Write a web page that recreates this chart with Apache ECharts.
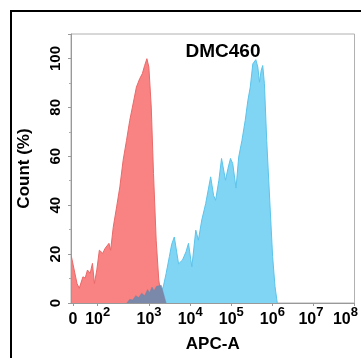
<!DOCTYPE html>
<html>
<head>
<meta charset="utf-8">
<script src="https://cdn.jsdelivr.net/npm/echarts@6/dist/echarts.min.js"></script>
<style>html,body{margin:0;padding:0;background:#fff}#c{width:361px;height:358px}</style>
</head>
<body>
<div id="c"></div>
<script>
// x positions are in axis units (decades of APC-A on the biexponential display scale)
var redX = [1.11,1.125,1.246,1.301,1.39,1.446,1.501,1.566,1.622,1.670,1.728,1.790,1.872,1.928,1.969,2.024,2.065,2.128,2.21,2.289,2.369,2.451,2.53,2.595,2.692,2.771,2.836,2.892,2.947,2.995,3.053,3.108,3.173,3.236,3.294,3.33];
var redY = [19,18.4,8,6,10.7,10.2,13.5,12.1,16.2,8,13.5,21.6,20.3,22.3,21.6,24.4,21.6,31,39.3,47.5,58.4,66.5,74.7,80.1,88.3,91.7,93.8,97.1,99.9,96.5,80.1,52.9,25.7,9.4,3,0];

var blueX = [3.25,3.294,3.35,3.414,3.494,3.55,3.614,3.718,3.814,3.9,3.959,4.041,4.137,4.2,4.282,4.378,4.499,4.57,4.619,4.699,4.764,4.86,4.92,4.981,5.036,5.116,5.181,5.26,5.34,5.405,5.463,5.525,5.598,5.646,5.687,5.728,5.766,5.807,5.863,5.945,6.007,6.065,6.12];
var blueY = [0,4,7,12,19,24,27,16,17.6,21,24.4,14.8,29.8,25.7,33.9,40.7,51.6,44,42,50.2,59.1,50.2,55,59.1,57,47,59.7,66.5,74.7,82.9,88.3,97.8,99.5,96.5,90.3,95.1,97.1,89.7,66.5,39.3,18.9,6.7,0];

var grayX = [2.458,2.530,2.602,2.675,2.747,2.819,2.892,2.964,3.012,3.072,3.120,3.181,3.229,3.294,3.349,3.414];
var grayY = [0,1.5,1.2,3,2.2,4,3,5.5,4.2,6.5,5,6.8,6,7.3,4,0];

var tickPositions = [1.15,1.75,3,4,5,6,7,8];
var labelPositions = [1.15,1.75,3,4,5,6,6.94,7.78];
var labelBase = ['0','10','10','10','10','10','10','10'];
var labelExp = ['','2','3','4','5','6','7','8'];
var yTicks = [0,20,40,60,80,100];

function pairs(xs, ys){ return xs.map(function(x,i){ return [x, ys[i]]; }); }

var FONT = '"Liberation Sans", Arial, sans-serif';
var chart = echarts.init(document.getElementById('c'), null, {renderer:'canvas'});
chart.setOption({
  animation: false,
  backgroundColor: '#fff',
  title: {
    text: 'DMC460', left: 218, top: 37, textAlign: 'center',
    textStyle: {fontFamily: FONT, fontWeight: 'bold', fontSize: 19, color: '#000'}
  },
  graphic: [{
    type: 'rect', shape: {x: 11, y: 11, width: 400, height: 400},
    style: {fill: 'none', stroke: '#000', lineWidth: 2}, z: 100, silent: true
  }],
  grid: {left: 71, right: 4, top: 34, bottom: 55, show: true, borderColor: '#b0b0b0', borderWidth: 1},
  xAxis: {
    type: 'value', min: 1.1, max: 8,
    name: 'APC-A', nameLocation: 'middle', nameGap: 33,
    nameTextStyle: {fontFamily: FONT, fontWeight: 'bold', fontSize: 17, color: '#000'},
    axisLine: {lineStyle: {color: '#999'}},
    axisTick: {customValues: tickPositions, length: 3, lineStyle: {color: '#999'}},
    splitLine: {show: false},
    axisLabel: {
      customValues: labelPositions, margin: 3,
      formatter: function(v){
        var i = labelPositions.indexOf(v);
        if (i < 0) return '';
        return labelExp[i] ? '{b|' + labelBase[i] + '}{s|' + labelExp[i] + '}' : '{b|' + labelBase[i] + '}';
      },
      rich: {
        b: {fontFamily: FONT, fontWeight: 'bold', fontSize: 16, color: '#000', lineHeight: 22, verticalAlign: 'bottom'},
        s: {fontFamily: FONT, fontWeight: 'bold', fontSize: 13, color: '#000', lineHeight: 13, verticalAlign: 'top'}
      }
    }
  },
  yAxis: {
    type: 'value', min: 0, max: 110, interval: 20,
    name: 'Count (%)', nameLocation: 'middle', nameGap: 38, nameRotate: 90,
    nameTextStyle: {fontFamily: FONT, fontWeight: 'bold', fontSize: 17, color: '#000'},
    axisLine: {show: true, lineStyle: {color: '#999'}},
    axisTick: {show: true, length: 3, lineStyle: {color: '#999'}},
    minorTick: {show: true, splitNumber: 2, length: 2, lineStyle: {color: '#aaa'}},
    splitLine: {show: false},
    axisLabel: {
      rotate: 90, margin: 8, showMaxLabel: false,
      fontFamily: FONT, fontWeight: 'bold', fontSize: 15, color: '#000',
      formatter: function(v){ return yTicks.indexOf(v) >= 0 ? String(v) : ''; }
    }
  },
  series: [
    {type: 'line', data: pairs(blueX, blueY), showSymbol: false, smooth: false,
     lineStyle: {color: '#5cc3ea', width: 1}, areaStyle: {color: '#80d4f4', opacity: 1}, z: 2},
    {type: 'line', data: pairs(redX, redY), showSymbol: false, smooth: false,
     lineStyle: {color: '#e86a6a', width: 1}, areaStyle: {color: '#f98282', opacity: 1}, z: 3},
    {type: 'line', data: pairs(grayX, grayY), showSymbol: false, smooth: false,
     lineStyle: {color: '#7484a6', width: 0.5}, areaStyle: {color: '#7a88aa', opacity: 1}, z: 4}
  ]
});
</script>
</body>
</html>
